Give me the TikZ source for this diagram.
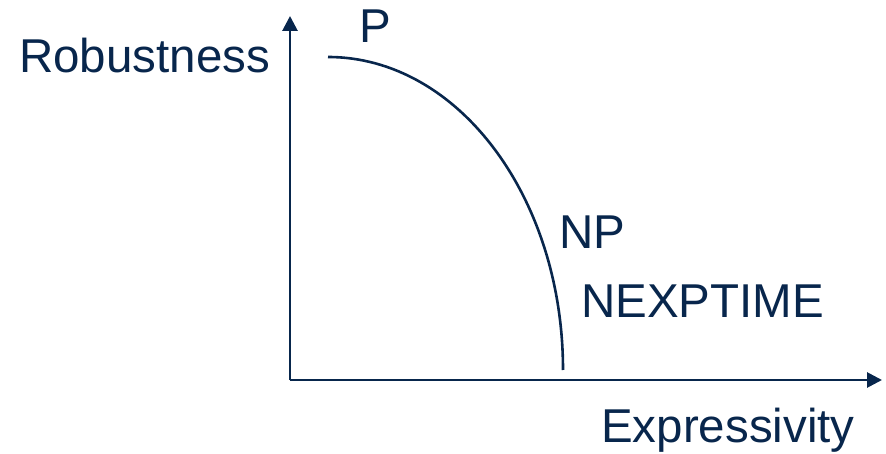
\documentclass[tikz,border=0pt]{standalone}
\usepackage{fontspec}
\setmainfont{Liberation Sans}
\usetikzlibrary{arrows.meta,positioning}
\definecolor{navy}{RGB}{8,38,76}

\begin{document}
\begin{tikzpicture}[
  x=1pt, y=-1pt,
  lbl/.style={anchor=base west, inner sep=0pt, text=navy,
              font=\fontsize{47.5}{57}\selectfont},
  axis/.style={draw=navy, line width=2.8pt,
               -{Triangle[length=15pt,width=15pt]}},
  >=Stealth
]
  \useasboundingbox (0,0) rectangle (886,454);

  % Axes
  \coordinate (o) at (290,380);
  \coordinate (ytip) at (290,16);
  \coordinate (xtip) at (882,380);
  \draw[axis] (o) -- (ytip);
  \draw[axis] (o) -- (xtip);

  % Trade-off curve
  \coordinate (c0) at (328,57);
  \coordinate (c1) at (563,370);
  \draw[navy, line width=2.6pt] (c0) arc[start angle=90, end angle=0,
        x radius=235, y radius=-313];

  % Axis labels
  \node[lbl] (rob) at (19,73)  {Robustness};
  \node[lbl] (exp) at (601,442) {Expressivity};

  % Classes
  \node[lbl] (p)    at (359,43)  {P};
  \node[lbl] (np)   at (559,249) {NP};
  \node[lbl] (nexp) at (581,317) {NEXPTIME};
\end{tikzpicture}
\end{document}
